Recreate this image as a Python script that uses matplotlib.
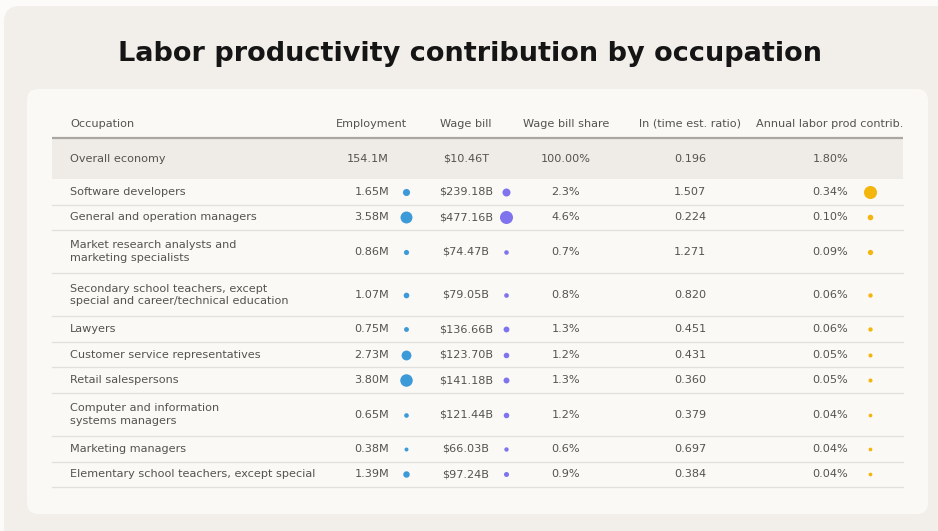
import matplotlib
matplotlib.use("Agg")
import matplotlib.pyplot as plt
from matplotlib.patches import FancyBboxPatch, Rectangle

# ---------------- data ----------------
title = "Labor productivity contribution by occupation"
columns = ["Occupation", "Employment", "Wage bill", "Wage bill share",
           "ln (time est. ratio)", "Annual labor prod contrib."]
occupations = [
    "Overall economy",
    "Software developers",
    "General and operation managers",
    "Market research analysts and\nmarketing specialists",
    "Secondary school teachers, except\nspecial and career/technical education",
    "Lawyers",
    "Customer service representatives",
    "Retail salespersons",
    "Computer and information\nsystems managers",
    "Marketing managers",
    "Elementary school teachers, except special",
]
employment_m = [154.1, 1.65, 3.58, 0.86, 1.07, 0.75, 2.73, 3.80, 0.65, 0.38, 1.39]
wage_bill_b = [10460.0, 239.18, 477.16, 74.47, 79.05, 136.66, 123.70, 141.18, 121.44, 66.03, 97.24]
wage_share_pct = [100.00, 2.3, 4.6, 0.7, 0.8, 1.3, 1.2, 1.3, 1.2, 0.6, 0.9]
ln_ratio = [0.196, 1.507, 0.224, 1.271, 0.820, 0.451, 0.431, 0.360, 0.379, 0.697, 0.384]
annual_contrib_pct = [1.80, 0.34, 0.10, 0.09, 0.06, 0.06, 0.05, 0.05, 0.04, 0.04, 0.04]

# ---------------- style ----------------
W, H = 938, 531
FONT = "DejaVu Sans"
TXT = "#55534f"
BLUE = "#3d9ad8"
PURPLE = "#8074ee"
ORANGE = "#f4b50c"

fig = plt.figure(figsize=(W / 100, H / 100), dpi=100)
fig.patch.set_facecolor("#fcfbf9")
ax = fig.add_axes([0, 0, 1, 1])
ax.set_xlim(0, W)
ax.set_ylim(H, 0)
ax.axis("off")

# backgrounds
ax.add_patch(FancyBboxPatch((4, 6), 960, 560, boxstyle="round,pad=0,rounding_size=16",
                            fc="#f2eee9", ec="none", zorder=0))
ax.add_patch(FancyBboxPatch((27, 89), 901, 425, boxstyle="round,pad=0,rounding_size=11",
                            fc="#faf9f6", ec="none", zorder=1))

ax.text(470, 61, title, ha="center", va="baseline", fontsize=19.5, color="#151515",
        family=FONT, fontweight="bold", zorder=5)

# column positions
x_occ = 70
x_emp_hdr, x_emp_val, x_emp_dot = 371, 389, 406
x_wage, x_wage_dot = 466, 506
x_share = 566
x_ln = 690
x_ann_hdr, x_ann_val, x_ann_dot = 830, 848, 870
x_line0, x_line1 = 52, 903

fs = 8.1
hdr_y = 124
ax.text(x_occ, hdr_y, columns[0], ha="left", va="center", fontsize=fs, color=TXT, family=FONT, zorder=5)
for xc, lab in zip([x_emp_hdr, x_wage, x_share, x_ln, x_ann_hdr], columns[1:]):
    ax.text(xc, hdr_y, lab, ha="center", va="center", fontsize=fs, color=TXT, family=FONT, zorder=5)

top = 138
ax.plot([x_line0, x_line1], [top, top], color="#aaa6a1", lw=1.6, zorder=4, solid_capstyle="butt")

y = top
for i, occ in enumerate(occupations):
    nlines = occ.count("\n") + 1
    if i == 0:
        h = 41
    else:
        h = 25.6 if nlines == 1 else 43
    yc = y + h / 2
    if i == 0:
        ax.add_patch(Rectangle((x_line0, y + 0.8), x_line1 - x_line0, h - 0.8, fc="#efebe6", ec="none", zorder=2))
        emp_s = f"{employment_m[i]:.1f}M"
        wage_s = f"${wage_bill_b[i] / 1000:.2f}T"
        share_s = f"{wage_share_pct[i]:.2f}%"
    else:
        emp_s = f"{employment_m[i]:.2f}M"
        wage_s = f"${wage_bill_b[i]:.2f}B"
        share_s = f"{wage_share_pct[i]:.1f}%"
    kw = dict(va="center", fontsize=fs, color=TXT, family=FONT, zorder=5)
    ax.text(x_occ, yc, occ, ha="left", linespacing=1.3, **kw)
    ax.text(x_emp_val, yc, emp_s, ha="right", **kw)
    ax.text(x_wage, yc, wage_s, ha="center", **kw)
    ax.text(x_share, yc, share_s, ha="center", **kw)
    ax.text(x_ln, yc, f"{ln_ratio[i]:.3f}", ha="center", **kw)
    ax.text(x_ann_val, yc, f"{annual_contrib_pct[i]:.2f}%", ha="right", **kw)
    if i > 0:
        d_emp = (3.0 + 2.5 * employment_m[i]) * 0.72
        d_wage = (3.0 + 0.021 * wage_bill_b[i]) * 0.72
        d_ann = (2.5 + 31 * annual_contrib_pct[i]) * 0.72
        ax.scatter([x_emp_dot], [yc], s=d_emp ** 2, color=BLUE, lw=0, zorder=6)
        ax.scatter([x_wage_dot], [yc], s=d_wage ** 2, color=PURPLE, lw=0, zorder=6)
        ax.scatter([x_ann_dot], [yc], s=d_ann ** 2, color=ORANGE, lw=0, zorder=6)
    y += h
    if i > 0:
        ax.plot([x_line0, x_line1], [y, y], color="#e3dfda", lw=0.9, zorder=4)

fig.savefig("out.png", dpi=100, facecolor=fig.get_facecolor())
